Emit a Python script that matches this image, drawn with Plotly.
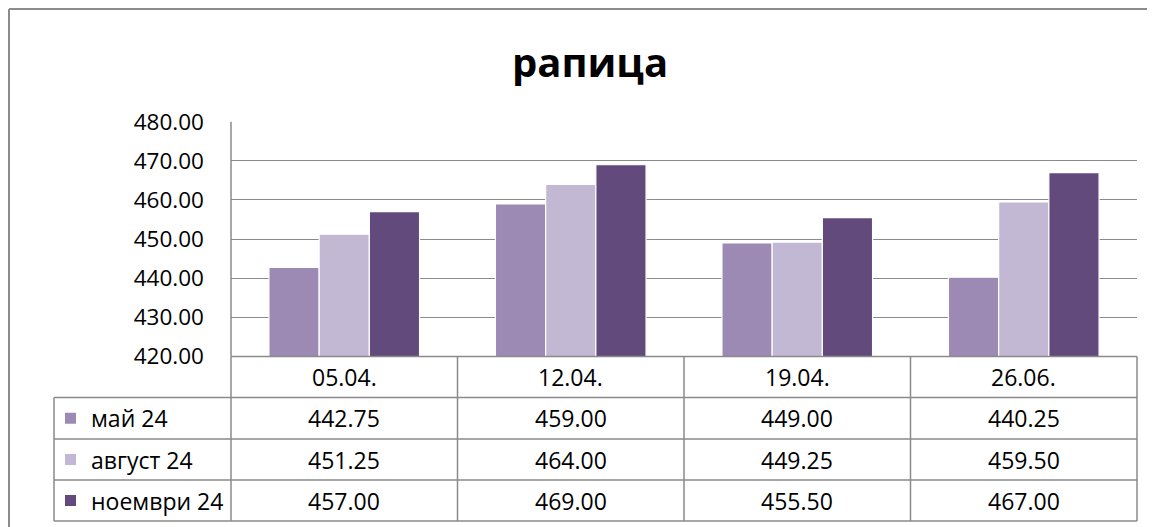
import plotly.graph_objects as go

categories = ["05.04.", "12.04.", "19.04.", "26.06."]
series_names = ["май 24", "август 24", "ноември 24"]
may_24 = [442.75, 459.00, 449.00, 440.25]
aug_24 = [451.25, 464.00, 449.25, 459.50]
nov_24 = [457.00, 469.00, 455.50, 467.00]
series_values = [may_24, aug_24, nov_24]
colors = ["#9C89B4", "#C2B8D3", "#624B7C"]
title_text = "рапица"

W, H = 1155, 527
FONT = "Open Sans"
GRID = "#8A8A8A"

# mapping from reference-picture pixels to paper coordinates
OFF_X, OFF_Y, PAPER_W, PAPER_H = 8, 8, 1155, 527


def px(x):
    return (x - OFF_X) / PAPER_W


def py(y):
    return 1 - (y - OFF_Y) / PAPER_H


plot_l, plot_r = 231, 1137
plot_t, plot_b = 121.7, 356.5
rows = [356.5, 397.5, 439, 480, 521]
leg_l = 54

fig = go.Figure()
for name, vals, col in zip(series_names, series_values, colors):
    fig.add_trace(go.Bar(
        x=categories, y=vals, name=name,
        marker=dict(color=col, line=dict(color="white", width=1.2)),
        showlegend=False,
    ))

shapes = []
line = dict(color=GRID, width=1.5)
shapes.append(dict(type="line", xref="paper", yref="paper",
                   x0=px(plot_l), x1=px(plot_r), y0=py(rows[0]), y1=py(rows[0]), line=line))
for r in rows[1:]:
    shapes.append(dict(type="line", xref="paper", yref="paper",
                       x0=px(leg_l), x1=px(plot_r), y0=py(r), y1=py(r), line=line))
ncat = len(categories)
for i in range(ncat + 1):
    xv = plot_l + (plot_r - plot_l) * i / ncat
    shapes.append(dict(type="line", xref="paper", yref="paper",
                       x0=px(xv), x1=px(xv), y0=py(rows[0]), y1=py(rows[-1]), line=line))
shapes.append(dict(type="line", xref="paper", yref="paper",
                   x0=px(leg_l), x1=px(leg_l), y0=py(rows[1]), y1=py(rows[-1]), line=line))
shapes.append(dict(type="line", xref="paper", yref="paper",
                   x0=px(plot_l), x1=px(plot_l), y0=py(plot_t), y1=py(plot_b), line=line))
border = dict(color="#8C8C8C", width=2)
shapes.append(dict(type="line", xref="paper", yref="paper",
                   x0=px(9), x1=1.02, y0=py(9), y1=py(9), line=border))
shapes.append(dict(type="line", xref="paper", yref="paper",
                   x0=px(9), x1=px(9), y0=py(9), y1=-0.02, line=border))

annotations = []
annotations.append(dict(text=f"<b>{title_text}</b>", xref="paper", yref="paper",
                        x=px(590), y=py(62), xanchor="center", yanchor="middle",
                        showarrow=False, font=dict(family=FONT, size=40, color="#000000")))
for c in categories:
    annotations.append(dict(text=c, xref="x", yref="paper", x=c,
                            y=py((rows[0] + rows[1]) / 2), xanchor="center", yanchor="middle",
                            showarrow=False, font=dict(family=FONT, size=23, color="#000000")))
for k, (name, vals, col) in enumerate(zip(series_names, series_values, colors)):
    yc = (rows[k + 1] + rows[k + 2]) / 2
    shapes.append(dict(type="rect", xref="paper", yref="paper",
                       x0=px(65), x1=px(76), y0=py(yc - 5.5), y1=py(yc + 5.5),
                       fillcolor=col, line=dict(width=0)))
    annotations.append(dict(text=name, xref="paper", yref="paper", x=px(89), y=py(yc),
                            xanchor="left", yanchor="middle", showarrow=False,
                            font=dict(family=FONT, size=23, color="#000000")))
    for c, v in zip(categories, vals):
        annotations.append(dict(text=f"{v:.2f}", xref="x", yref="paper", x=c, y=py(yc),
                                xanchor="center", yanchor="middle", showarrow=False,
                                font=dict(family=FONT, size=23, color="#000000")))

fig.update_layout(
    width=W, height=H, autosize=False,
    margin=dict(l=0, r=0, t=0, b=0),
    paper_bgcolor="white", plot_bgcolor="white",
    barmode="group", bargap=0.335, bargroupgap=0,
    shapes=shapes, annotations=annotations,
    xaxis=dict(domain=[px(plot_l), px(plot_r)], showticklabels=False, showgrid=False,
               zeroline=False, showline=False, ticks="", automargin=False),
    yaxis=dict(domain=[py(plot_b), py(plot_t)], range=[420, 480], dtick=10,
               tickformat=".2f", showgrid=True, gridcolor=GRID, gridwidth=1.3,
               zeroline=False, showline=False, ticks="", ticklabelstandoff=26,
               automargin=False,
               tickfont=dict(family=FONT, size=22.5, color="#000000")),
)

fig.write_html("out.html")
